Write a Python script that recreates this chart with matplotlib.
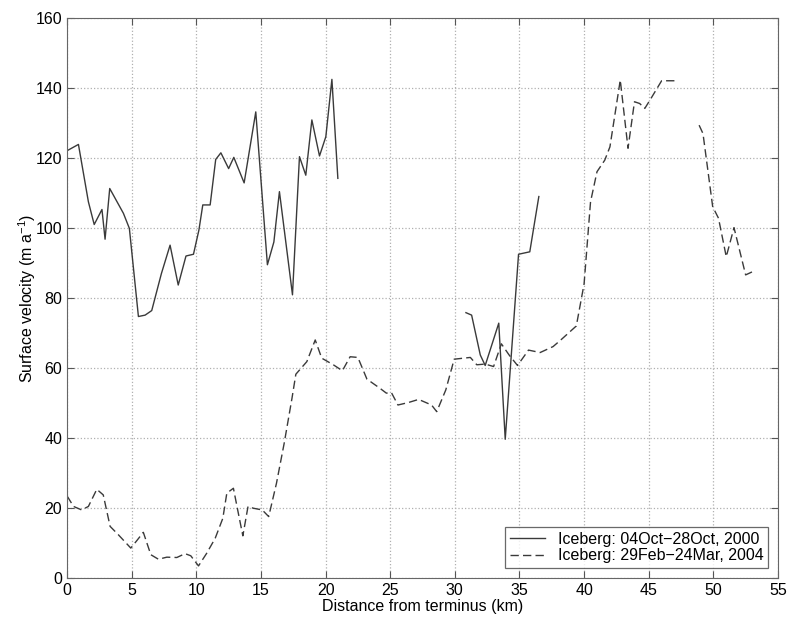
import matplotlib
matplotlib.use('Agg')
import matplotlib.pyplot as plt
import numpy as np

# Iceberg 04Oct-28Oct 2000 (solid), two segments
x_2000a = [0.0, 0.88, 1.65, 2.1, 2.7, 2.94, 3.3, 4.36, 4.82, 5.52, 6.04, 6.55, 7.3, 7.97, 8.6,
           9.2, 9.78, 10.2, 10.5, 11.07, 11.5, 11.9, 12.5, 12.9, 13.7, 14.6, 15.5, 16.0, 16.43,
           17.44, 17.98, 18.47, 18.94, 19.53, 20.02, 20.49, 20.95]
y_2000a = [122.1, 123.9, 107.5, 101.0, 105.3, 96.8, 111.3, 104.2, 99.9, 74.7, 75.1, 76.4, 87.0, 95.1, 83.7,
           92.0, 92.5, 99.4, 106.6, 106.6, 119.6, 121.5, 117.0, 120.2, 112.9, 133.2, 89.5, 96.0, 110.4,
           80.9, 120.4, 115.1, 130.9, 120.6, 126.1, 142.5, 114.2]
x_2000b = [30.86, 31.3, 31.97, 32.35, 33.4, 33.9, 34.93, 35.8, 36.1, 36.5]
y_2000b = [75.8, 75.1, 63.7, 60.7, 72.8, 39.6, 92.5, 93.2, 100.0, 109.0]

# Iceberg 29Feb-24Mar 2004 (dashed), two segments
x_2004a = [0.0, 0.5, 1.13, 1.65, 2.3, 2.8, 3.33, 3.97, 4.93, 5.39, 5.9, 6.48, 7.07, 7.72, 8.49,
           9.13, 9.57, 10.17, 10.8, 11.46, 12.05, 12.36, 12.87, 13.2, 13.6, 14.0, 14.4, 15.1, 15.6,
           16.2, 16.8, 17.4, 17.7, 18.55, 19.2, 19.7, 20.6, 21.3, 21.9, 22.5, 23.2, 24.2, 24.7,
           25.1, 25.6, 26.4, 27.2, 28.2, 28.6, 29.3, 29.95, 31.2, 31.7, 32.35, 33.0, 33.6, 34.2,
           34.85, 35.7, 36.6, 37.6, 38.2, 38.8, 39.4, 40.0, 40.5, 41.0, 41.6, 42.0, 42.8, 43.4,
           43.9, 44.3, 44.7, 45.25, 46.0, 47.2]
y_2004a = [23.4, 20.4, 19.4, 20.4, 25.3, 23.7, 14.7, 12.3, 8.5, 10.6, 13.0, 6.6, 5.3, 5.9, 5.8,
           6.9, 6.3, 3.4, 7.0, 11.3, 17.0, 24.2, 25.6, 19.4, 12.0, 20.4, 19.9, 19.4, 17.5,
           27.0, 38.5, 51.3, 58.2, 61.8, 68.0, 62.8, 60.9, 59.2, 63.2, 63.0, 56.8, 54.2, 52.8,
           52.9, 49.4, 50.1, 51.0, 49.4, 47.5, 53.7, 62.5, 63.0, 60.9, 61.1, 60.4, 66.9, 63.7,
           60.7, 65.1, 64.4, 66.1, 68.0, 70.0, 72.0, 84.0, 107.5, 116.1, 119.4, 123.2, 142.3, 122.8,
           136.1, 135.6, 134.2, 137.5, 142.1, 142.1]
x_2004b = [48.9, 49.2, 49.95, 50.4, 51.0, 51.6, 52.5, 53.2]
y_2004b = [129.4, 127.0, 106.1, 102.8, 91.8, 100.1, 86.6, 87.8]

plt.rcParams['font.family'] = ['Liberation Sans', 'DejaVu Sans']
plt.rcParams['mathtext.fontset'] = 'custom'
plt.rcParams['mathtext.rm'] = 'Liberation Sans'
plt.rcParams['mathtext.it'] = 'Liberation Sans'

fig = plt.figure(figsize=(7.89, 6.26), dpi=100)
ax = fig.add_axes([0.085, 0.077, 0.901, 0.894])

lc = '#3a3a3a'
ax.plot(x_2000a, y_2000a, color=lc, lw=1.0, label='Iceberg: 04Oct\u221228Oct, 2000')
ax.plot(x_2000b, y_2000b, color=lc, lw=1.0)
ax.plot(x_2004a, y_2004a, color=lc, lw=1.0, ls=(0, (6, 3)), label='Iceberg: 29Feb\u221224Mar, 2004')
ax.plot(x_2004b, y_2004b, color=lc, lw=1.0, ls=(0, (6, 3)))

ax.set_xlim(0, 55)
ax.set_ylim(0, 160)
ax.set_xticks(np.arange(0, 56, 5))
ax.set_yticks(np.arange(0, 161, 20))
ax.grid(True, ls=':', color='#b0b0b0', lw=0.9)
ax.tick_params(direction='in', top=True, right=True, labelsize=11.5, length=5, color='#555555')
for s in ax.spines.values():
    s.set_color('#666666')

ax.set_xlabel('Distance from terminus (km)', fontsize=11.5, labelpad=1)
ax.set_ylabel('Surface velocity (m a$^{-1}$)', fontsize=11.5)
ax.yaxis.set_label_coords(-0.041, 0.5)

leg = ax.legend(loc='lower right', fontsize=11.5, frameon=True, fancybox=False,
                handlelength=2.2, borderaxespad=0.6, borderpad=0.3, labelspacing=0.1)
leg.get_frame().set_edgecolor('#444444')
leg.get_frame().set_linewidth(0.9)

fig.savefig('out.png', dpi=100)
